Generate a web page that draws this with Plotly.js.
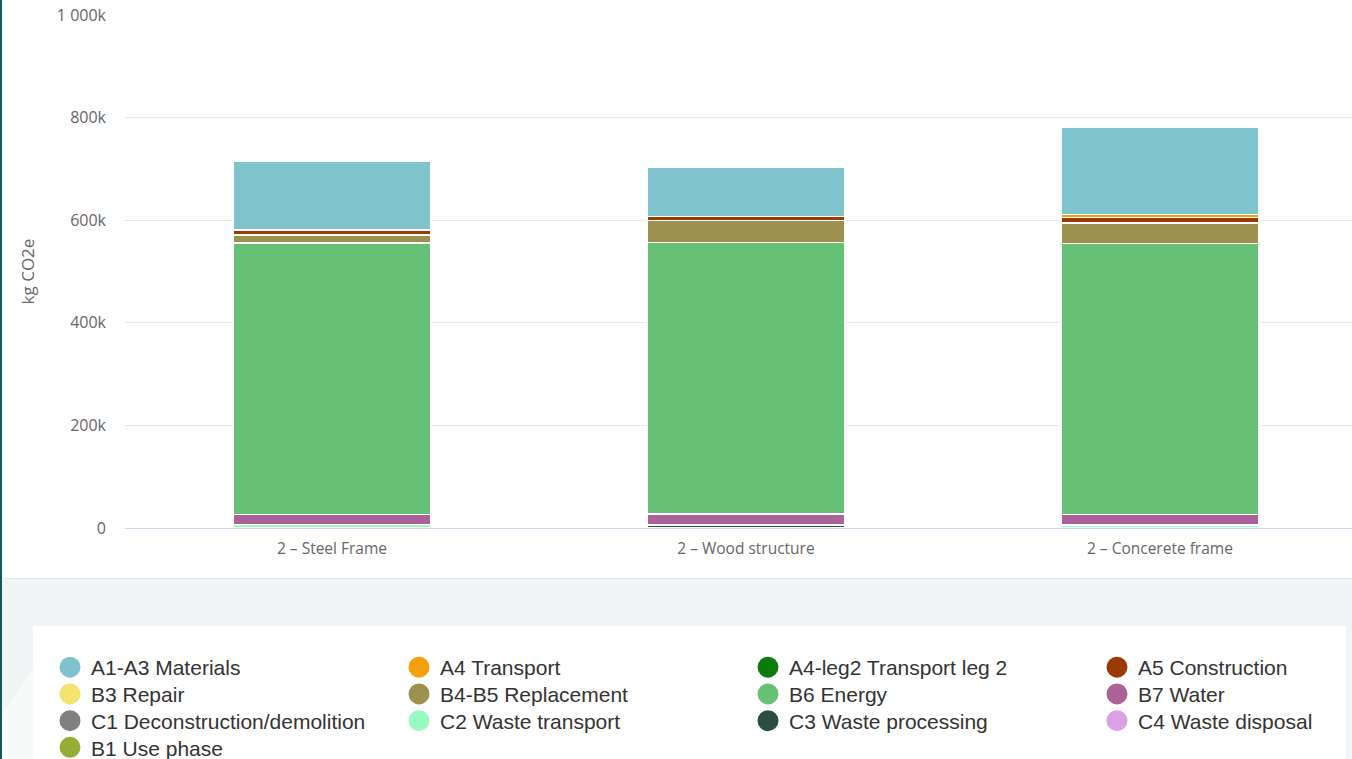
<!DOCTYPE html>
<html>
<head>
<meta charset="utf-8">
<script src="https://cdn.plot.ly/plotly-3.0.1.min.js"></script>
<style>
  html, body { margin: 0; padding: 0; width: 1352px; height: 759px; overflow: hidden; background: #ffffff; }
  #band { position: absolute; left: 0; top: 578px; width: 1352px; height: 181px; background: #f1f4f5; border-top: 1px solid #e3e7e8; }
  #wedge { position: absolute; left: 0; top: 626px; width: 33px; height: 133px; background: #f8fafa;
           clip-path: polygon(0 68%, 100% 32%, 100% 100%, 0 100%); }
  #legendbox { position: absolute; left: 33px; top: 626px; width: 1313px; height: 133px; background: #ffffff; }
  #edge { position: absolute; left: 0; top: 0; width: 2px; height: 759px; background: #0e5b5a; }
  #chart { position: absolute; left: 0; top: 0; width: 1352px; height: 759px; }
</style>
</head>
<body>
<div id="band"></div>
<div id="wedge"></div>
<div id="legendbox"></div>
<div id="edge"></div>
<div id="chart"></div>
<script>
// Life-cycle stages of three structural alternatives, in thousand kg CO2e
const categories = ['2 – Steel Frame', '2 – Wood structure', '2 – Concerete frame'];

const a1a3Materials     = [133.5, 97.3, 170];
const a4Transport       = [0, 0, 6];
const a4leg2Transport   = [0, 0, 0];
const a5Construction    = [9.4, 7.8, 9.8];
const b3Repair          = [0, 0, 0];
const b4b5Replacement   = [16, 42.8, 40];
const b6Energy          = [529, 529, 529];
const b7Water           = [19.5, 21, 20];
const c1Deconstruction  = [0, 0, 0];
const c2WasteTransport  = [6.8, 0, 6];
const c3WasteProcessing = [0, 6.2, 0];
const c4WasteDisposal   = [0, 0, 0];
const b1UsePhase        = [0, 0, 0];

const seriesNames = [
  'A1-A3 Materials', 'A4 Transport', 'A4-leg2 Transport leg 2', 'A5 Construction',
  'B3 Repair', 'B4-B5 Replacement', 'B6 Energy', 'B7 Water',
  'C1 Deconstruction/demolition', 'C2 Waste transport', 'C3 Waste processing', 'C4 Waste disposal',
  'B1 Use phase'
];
const seriesValues = [
  a1a3Materials, a4Transport, a4leg2Transport, a5Construction,
  b3Repair, b4b5Replacement, b6Energy, b7Water,
  c1Deconstruction, c2WasteTransport, c3WasteProcessing, c4WasteDisposal,
  b1UsePhase
];
const seriesColors = [
  '#7fc3cc', '#f5a00a', '#0b7b0b', '#9a3b04',
  '#f2e46c', '#9c914f', '#66c177', '#aa6298',
  '#808080', '#98fbc0', '#2a4f42', '#daa2e4',
  '#94ae35'
];

const yTickValues = [0, 200, 400, 600, 800, 1000];
const yTickLabels = ['0', '200k', '400k', '600k', '800k', '1 000k'];

const traces = [];

// Stacked bars: the first stage in the list sits on top of the stack
for (let i = seriesNames.length - 1; i >= 0; i--) {
  traces.push({
    type: 'bar',
    name: seriesNames[i],
    legendgroup: seriesNames[i],
    showlegend: false,
    x: categories,
    y: seriesValues[i],
    marker: { color: seriesColors[i], line: { color: '#ffffff', width: 1.5 } },
    hovertemplate: '%{x}<br>' + seriesNames[i] + ': %{y:.1f}k<extra></extra>'
  });
}

// Round legend markers, four stages per legend row
seriesNames.forEach((name, i) => {
  const row = Math.floor(i / 4);
  const col = i % 4;
  traces.push({
    type: 'scatter',
    mode: 'markers',
    name: name,
    legendgroup: name,
    legend: row === 0 ? 'legend' : 'legend' + (row + 1),
    legendwidth: col < 3 ? 302 : 230,
    x: [null],
    y: [null],
    marker: { color: seriesColors[i], size: 16, line: { color: seriesColors[i], width: 5 } },
    hoverinfo: 'skip'
  });
});

const plotTop = 15, plotBottom = 528, plotLeft = 125, plotWidth = 1227;
const toPaperY = py => (plotBottom - py) / (plotBottom - plotTop);
const toPaperX = px => (px - plotLeft) / plotWidth;

function legendRow(py) {
  return {
    orientation: 'h',
    x: toPaperX(49),
    xanchor: 'left',
    y: toPaperY(py),
    yanchor: 'middle',
    bgcolor: 'rgba(0,0,0,0)',
    borderwidth: 0,
    itemwidth: 32,
    traceorder: 'normal',
    entrywidthmode: 'pixels',
    font: { family: 'Liberation Sans, Arial, sans-serif', size: 21, color: '#333333' }
  };
}

const tickFont = { family: 'Open Sans, sans-serif', size: 15.5, color: '#666666' };

const layout = {
  width: 1352,
  height: 759,
  margin: { l: plotLeft, r: 0, t: plotTop, b: 759 - plotBottom, autoexpand: false },
  paper_bgcolor: 'rgba(0,0,0,0)',
  plot_bgcolor: 'rgba(0,0,0,0)',
  barmode: 'stack',
  bargap: 0.522,
  xaxis: {
    type: 'category',
    range: [-0.5, 2.464],
    showgrid: false,
    zeroline: false,
    showline: true,
    linecolor: '#ccd6eb',
    linewidth: 1,
    ticks: '',
    ticklabelstandoff: 6,
    tickfont: tickFont,
    fixedrange: true
  },
  yaxis: {
    range: [0, 1000],
    tickvals: yTickValues,
    ticktext: yTickLabels,
    showgrid: true,
    gridcolor: '#e6e6e6',
    gridwidth: 1,
    zeroline: false,
    showline: false,
    ticks: '',
    ticklabelstandoff: 18,
    tickfont: { family: 'Open Sans, sans-serif', size: 16, color: '#666666' },
    title: { text: 'kg CO2e', font: { family: 'Open Sans, sans-serif', size: 17, color: '#666666' }, standoff: 17 },
    fixedrange: true
  },
  legend: legendRow(667.5),
  legend2: legendRow(694.3),
  legend3: legendRow(721),
  legend4: legendRow(747.7),
  showlegend: true
};

Plotly.newPlot('chart', traces, layout, { displayModeBar: false, staticPlot: false });
</script>
</body>
</html>
